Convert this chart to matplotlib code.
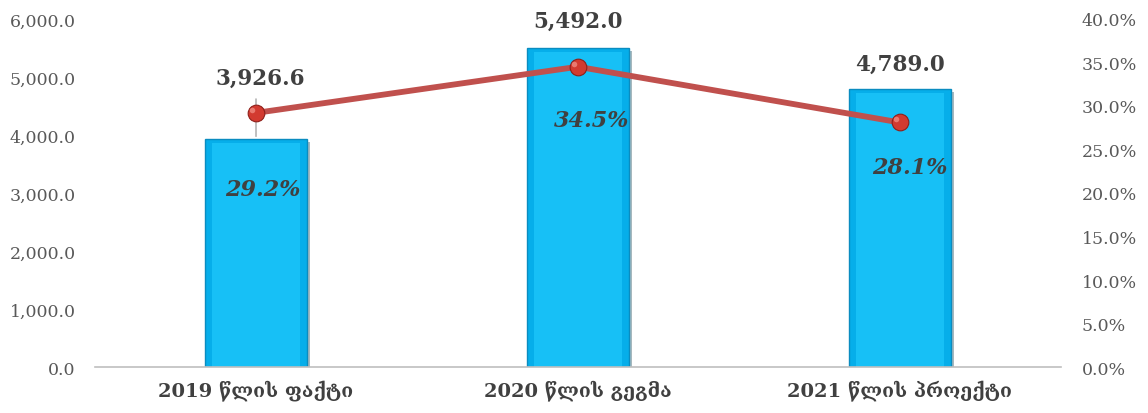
import matplotlib
matplotlib.use("Agg")
import matplotlib.pyplot as plt
from matplotlib.ticker import FuncFormatter
import matplotlib.patheffects as pe

categories = ["2019 წლის ფაქტი", "2020 წლის გეგმა", "2021 წლის პროექტი"]
amounts = [3926.6, 5492.0, 4789.0]
shares = [29.2, 34.5, 28.1]
amount_labels = ["3,926.6", "5,492.0", "4,789.0"]
share_labels = ["29.2%", "34.5%", "28.1%"]

fig = plt.figure(figsize=(11.48, 4.14), dpi=100)
ax = fig.add_axes([0.0828, 0.111, 0.924 - 0.0828, 0.952 - 0.111])
ax2 = ax.twinx()

x = list(range(len(categories)))
bars = ax.bar(x, amounts, width=0.317, color="#06AEEA", edgecolor="#0A8CC0",
              linewidth=1.0, zorder=2,
              path_effects=[pe.SimplePatchShadow(offset=(2, -2), alpha=0.35), pe.Normal()])
# bevel highlight
for b in bars:
    bx, bw, bh = b.get_x(), b.get_width(), b.get_height()
    ax.bar(bx + bw / 2, bh - 60, width=bw * 0.86, bottom=0, color="#17C0F6",
           edgecolor="none", zorder=2.5)

ax.set_xlim(-0.5, 2.5)
ax.set_ylim(0, 6000)
ax.set_yticks(range(0, 6001, 1000))
ax.yaxis.set_major_formatter(FuncFormatter(lambda v, p: f"{v:,.1f}"))
ax.set_xticks(x)
ax.set_xticklabels(categories, family=["DejaVu Serif", "DejaVu Sans"],
                   fontsize=14, fontweight="bold", color="#404040")
ax.tick_params(axis="x", length=0, pad=9)

ax2.set_ylim(0, 40)
ax2.set_yticks(range(0, 41, 5))
ax2.yaxis.set_major_formatter(FuncFormatter(lambda v, p: f"{v:.1f}%"))

for a in (ax, ax2):
    for s in a.spines.values():
        s.set_visible(False)
    a.tick_params(axis="y", length=0, labelsize=12.5, labelcolor="#595959")
    for lab in a.get_yticklabels():
        lab.set_family("DejaVu Serif")
ax.tick_params(axis="y", pad=14)
ax2.tick_params(axis="y", pad=15)
ax.spines["bottom"].set_visible(True)
ax.spines["bottom"].set_color("#BFBFBF")
ax.spines["bottom"].set_linewidth(1.2)

ax2.plot(x, shares, color="#C0504D", linewidth=4.2, zorder=3,
         solid_capstyle="round")
ax2.plot(x, shares, linestyle="none", marker="o", markersize=12,
         markerfacecolor="#D23A30", markeredgecolor="#8E1F1A",
         markeredgewidth=0.8, zorder=4)
ax2.plot([xx - 0.012 for xx in x], [s + 0.35 for s in shares], linestyle="none",
         marker="o", markersize=4, markerfacecolor="#F08A80",
         markeredgecolor="none", alpha=0.8, zorder=5)

# value labels
val_offsets = [(3, 36), (0, 12), (0, 10)]
for xi, v, lab, off in zip(x, amounts, amount_labels, val_offsets):
    ax.annotate(lab, (xi, v), xytext=off, textcoords="offset points",
                ha="center", va="bottom", fontsize=15.5, fontweight="bold",
                color="#404040", family="DejaVu Serif", zorder=6)
# leader line for first label
ax.annotate("", (0, amounts[0]), xytext=(0, 31), textcoords="offset points",
            arrowprops=dict(arrowstyle="-", color="#A6A6A6", lw=1.0), zorder=1)

share_offsets = [(5, -55), (10, -38), (7, -32)]
for xi, v, lab, off in zip(x, shares, share_labels, share_offsets):
    ax2.annotate(lab, (xi, v), xytext=off, textcoords="offset points",
                 ha="center", va="center", fontsize=16, fontweight="bold",
                 fontstyle="italic", color="#404040", family="DejaVu Serif",
                 zorder=6)

fig.savefig("out.png", dpi=100)
